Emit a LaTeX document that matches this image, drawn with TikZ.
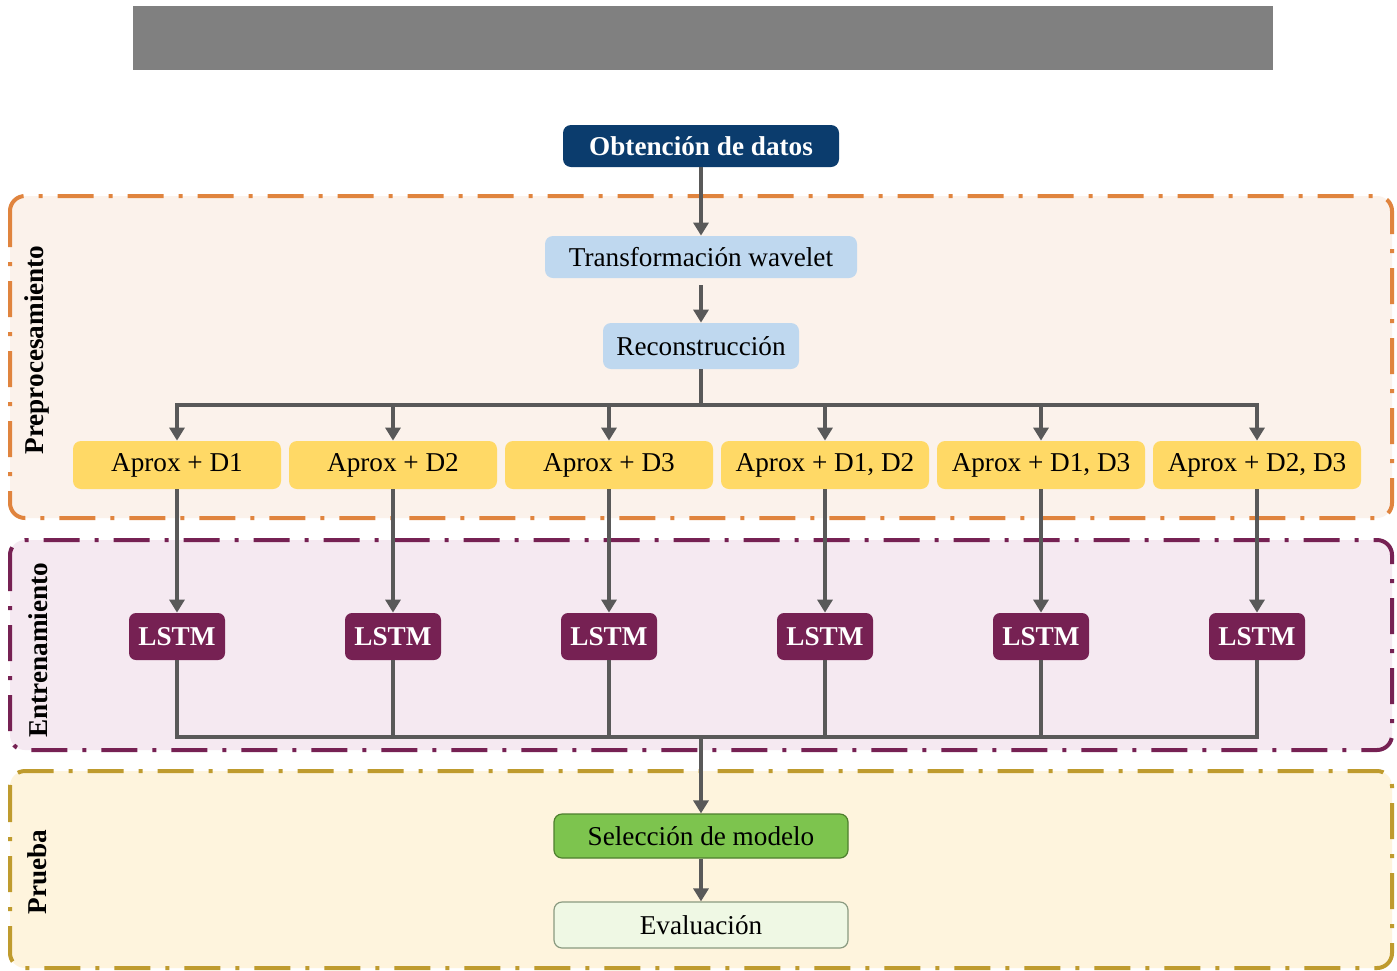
\documentclass[tikz,border=0pt]{standalone}
\usepackage{fontspec}
\setmainfont{Liberation Serif}
\usetikzlibrary{arrows.meta}
\definecolor{navy}{HTML}{0B3C6D}
\definecolor{lblue}{HTML}{BFD8EF}
\definecolor{gold}{HTML}{FFD966}
\definecolor{plum}{HTML}{762153}
\definecolor{lgreen}{HTML}{7DC44E}
\definecolor{dgreen}{HTML}{4E7F2E}
\definecolor{pgreen}{HTML}{EFF8E4}
\definecolor{pgreenb}{HTML}{8A9A80}
\definecolor{preF}{HTML}{FBF2EB}
\definecolor{preB}{HTML}{E0843E}
\definecolor{entF}{HTML}{F5E9F1}
\definecolor{entB}{HTML}{762153}
\definecolor{pruF}{HTML}{FEF4DD}
\definecolor{pruB}{HTML}{BF9B2E}
\definecolor{conn}{HTML}{595959}
\tikzset{
  txt/.style={font=\fontsize{13.6}{16}\selectfont},
  region/.style={line width=2pt, rounded corners=7.5pt,
    dash pattern=on 18pt off 7.5pt on 2pt off 7.5pt},
  boxbase/.style={txt, rounded corners=4pt, inner sep=0pt, align=center},
  darkbox/.style={boxbase, fill=navy, text=white, font=\fontsize{13.6}{16}\selectfont\bfseries},
  bluebox/.style={boxbase, fill=lblue, text=black},
  goldbox/.style={boxbase, fill=gold, text=black, minimum width=104pt, minimum height=24pt},
  lstmbox/.style={boxbase, rounded corners=3.5pt, fill=plum, text=white, font=\fontsize{13.6}{16}\selectfont\bfseries, minimum width=48pt, minimum height=23.5pt},
  selbox/.style={boxbase, fill=lgreen, draw=dgreen, line width=0.6pt, text=black},
  evalbox/.style={boxbase, fill=pgreen, draw=pgreenb, line width=0.6pt, text=black},
  line/.style={draw=conn, line width=1.6pt},
  arr/.style={line, -{Triangle[width=7.5pt,length=6.5pt]}},
  sidelabel/.style={rotate=90, font=\fontsize{13.6}{16}\selectfont\bfseries, text=black},
}
\begin{document}
\begin{tikzpicture}[x=0.5pt, y=-0.5pt]
\useasboundingbox (0,0) rectangle (1397,970);
\fill[white] (0,0) rectangle (1397,970);
% top grey bar
\fill[gray] (133,6) rectangle (1273,70);

% regions
\filldraw[region, fill=preF, draw=preB] (10,196) rectangle (1392,518);
\filldraw[region, fill=entF, draw=entB] (10,540) rectangle (1392,750);
\filldraw[region, fill=pruF, draw=pruB] (10,771) rectangle (1392,968);

\node[sidelabel] (lpre) at (37,350) {Preprocesamiento};
\node[sidelabel] (lent) at (38,650) {Entrenamiento};
\node[sidelabel] (lpru) at (37,872) {Prueba};

% nodes
\node[darkbox, minimum width=138pt, minimum height=21pt] (O) at (701,146) {Obtención de datos};
\node[bluebox, minimum width=156pt, minimum height=21pt] (T) at (701,257) {Transformación wavelet};
\node[bluebox, minimum width=98pt, minimum height=23pt] (R) at (701,346) {Reconstrucción};

\node[goldbox] (A1) at (177,465) {Aprox + D1};
\node[goldbox] (A2) at (393,465) {Aprox + D2};
\node[goldbox] (A3) at (609,465) {Aprox + D3};
\node[goldbox] (A4) at (825,465) {Aprox + D1, D2};
\node[goldbox] (A5) at (1041,465) {Aprox + D1, D3};
\node[goldbox] (A6) at (1257,465) {Aprox + D2, D3};

\node[lstmbox] (L1) at (177,636.5) {LSTM};
\node[lstmbox] (L2) at (393,636.5) {LSTM};
\node[lstmbox] (L3) at (609,636.5) {LSTM};
\node[lstmbox] (L4) at (825,636.5) {LSTM};
\node[lstmbox] (L5) at (1041,636.5) {LSTM};
\node[lstmbox] (L6) at (1257,636.5) {LSTM};

\node[selbox, minimum width=147pt, minimum height=22pt] (S) at (701,836) {Selección de modelo};
\node[evalbox, minimum width=147pt, minimum height=23pt] (E) at (701,925) {Evaluación};

\coordinate (busA) at (701,405);
\coordinate (busB) at (701,737);

% connectors
\draw[arr] (O.south) -- (T.north);
\draw[arr, shorten <=3.5pt] (T.south) -- (R.north);
\draw[line] (R.south) -- (busA);
\draw[line, line cap=rect] (A1.north |- busA) -- (A6.north |- busA);
\foreach \i in {1,...,6}{
  \draw[arr] (A\i.north |- busA) -- (A\i.north);
  \draw[arr] (A\i.south) -- (L\i.north);
}
\draw[line, line join=miter] (L1.south) |- (L6.south |- busB) -- (L6.south);
\foreach \i in {2,...,5}{
  \draw[line] (L\i.south) -- (L\i.south |- busB);
}
\draw[arr] (busB) -- (S.north);
\draw[arr] (S.south) -- (E.north);
\end{tikzpicture}
\end{document}
